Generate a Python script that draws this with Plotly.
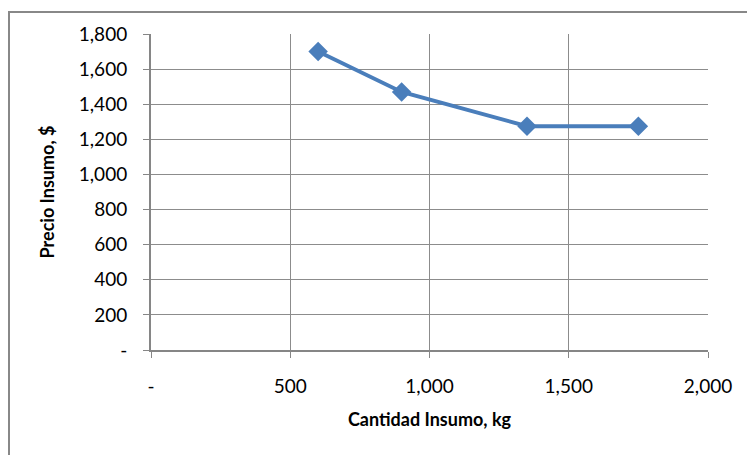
import plotly.graph_objects as go

cantidad = [600, 900, 1350, 1750]
precio = [1700, 1470, 1275, 1275]

x_tickvals = [0, 500, 1000, 1500, 2000]
x_ticktext = ["-", "500", "1,000", "1,500", "2,000"]
y_tickvals = [0, 200, 400, 600, 800, 1000, 1200, 1400, 1600, 1800]
y_ticktext = ["-", "200", "400", "600", "800", "1,000", "1,200", "1,400", "1,600", "1,800"]

W, H = 747, 455
L, R, T, B = 151, 39, 34, 105
pw, ph = W - L - R, H - T - B

fig = go.Figure()
fig.add_trace(go.Scatter(
    x=cantidad, y=precio, mode="lines+markers",
    line=dict(color="#4A7EBB", width=4),
    marker=dict(symbol="diamond", size=15, color="#4A7EBB"),
    showlegend=False,
))

font = dict(family="Lato, Calibri, sans-serif", size=19, color="black")
grid = "#8C8C8C"

fig.update_layout(
    width=W, height=H,
    margin=dict(l=L, r=R, t=T, b=B),
    paper_bgcolor="white", plot_bgcolor="white",
    font=font,
    xaxis=dict(
        range=[0, 2000], tickvals=x_tickvals, ticktext=x_ticktext,
        showgrid=True, gridcolor=grid, gridwidth=1,
        showline=True, linecolor="#868686", linewidth=2,
        ticks="outside", ticklen=6, tickcolor="#868686",
        ticklabelstandoff=12, zeroline=False,
        title=dict(text="<b>Cantidad Insumo, kg</b>", font=dict(size=18), standoff=18),
    ),
    yaxis=dict(
        range=[0, 1800], tickvals=y_tickvals, ticktext=y_ticktext,
        showgrid=True, gridcolor=grid, gridwidth=1,
        showline=True, linecolor="#868686", linewidth=2,
        ticks="outside", ticklen=6, tickcolor="#868686",
        ticklabelstandoff=12, zeroline=False,
        title=dict(text="<b>Precio Insumo, $</b>", font=dict(size=18), standoff=19),
    ),
)

fig.add_shape(type="rect", xref="paper", yref="paper",
              x0=(9 - L) / pw, x1=(W + 5 - L) / pw,
              y0=-(H + 5 - T - ph) / ph, y1=1 + (T - 12) / ph,
              line=dict(color="#888888", width=2), layer="below")

fig.write_html("out.html")
